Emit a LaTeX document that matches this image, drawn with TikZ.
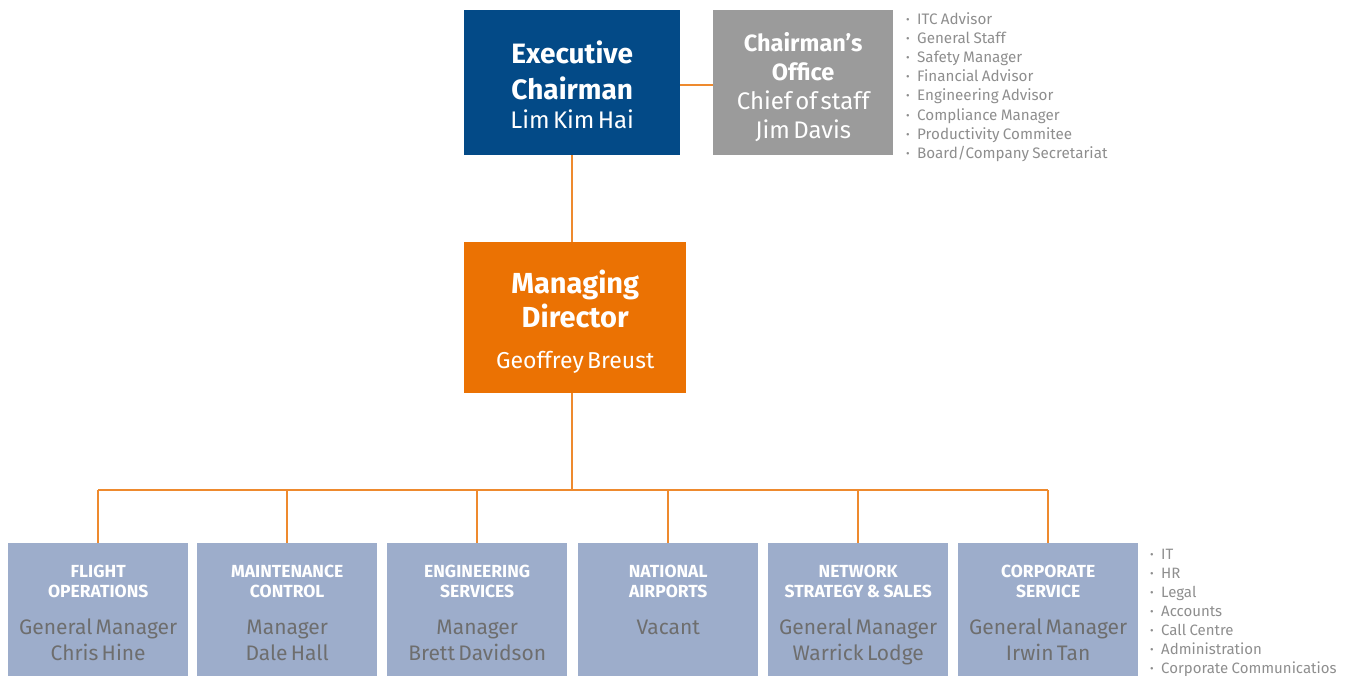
\documentclass[tikz,border=0pt]{standalone}
\usepackage{fontspec}
\setmainfont{Fira Sans}
\definecolor{execblue}{HTML}{034A87}
\definecolor{officegray}{HTML}{9B9B9B}
\definecolor{mdorange}{HTML}{EB7203}
\definecolor{deptblue}{HTML}{9DADCB}
\definecolor{nametext}{HTML}{6E6E6E}
\definecolor{listgray}{HTML}{8E8E8E}
\definecolor{linkorange}{HTML}{EE8A2E}
\newcommand{\fs}[2]{\fontsize{#1}{#2}\selectfont}
\newcommand{\itm}{\makebox[11pt][l]{\fs{11}{11}\raisebox{0.2ex}{•}}}
% text height 0pt: the first baseline sits (text depth)/2 above the box centre
\begin{document}
\begin{tikzpicture}[x=1pt,y=-1pt,
  box/.style={anchor=north west, inner sep=0pt, align=center, text=white, text height=0pt},
  dept/.style={box, fill=deptblue, minimum width=180pt, minimum height=133pt, text width=178pt, text depth=65pt},
  link/.style={draw=linkorange, line width=1.5pt},
  duties/.style={anchor=north west, inner sep=0pt, align=left, text=listgray, text height=10pt, text depth=0pt}]
\useasboundingbox (0,0) rectangle (1352,676);

% top level
\node[box, fill=execblue, minimum width=216pt, minimum height=145pt, text width=214pt, text depth=39pt] (exec) at (464,10)
  {\fs{28}{36}\bfseries Executive\par Chairman\par\fs{24}{29}\mdseries Lim Kim Hai\par};
\node[box, fill=officegray, minimum width=180pt, minimum height=145pt, text width=178pt, text depth=63pt] (office) at (713,10)
  {\fs{23.5}{29}\bfseries Chairman’s\par Office\par\fs{24}{29}\mdseries Chief of staff\par Jim Davis\par};
\node[duties, text width=240pt] (officelist) at (906,14)
  {\fs{15.2}{19.2}\itm ITC Advisor\par\itm General Staff\par\itm Safety Manager\par\itm Financial Advisor\par
   \itm Engineering Advisor\par\itm Compliance Manager\par\itm Productivity Commitee\par\itm Board/Company Secretariat\par};

% managing director
\node[box, fill=mdorange, minimum width=222pt, minimum height=151pt, text width=220pt, text depth=49pt] (md) at (464,242)
  {\fs{29}{34}\bfseries Managing\par Director\par\vskip12pt\fs{23}{29}\mdseries Geoffrey Breust\par};

% departments
\newcommand{\deptx}[3]{\fs{17.5}{20}\bfseries #1\par\vskip11pt\fs{21}{26}\mdseries\color{nametext}#2\par #3\par}
\node[dept] (flight) at (8,543)   {\deptx{FLIGHT\par OPERATIONS}{General Manager}{Chris Hine}};
\node[dept] (maint)  at (197,543) {\deptx{MAINTENANCE\par CONTROL}{Manager}{Dale Hall}};
\node[dept] (eng)    at (387,543) {\deptx{ENGINEERING\par SERVICES}{Manager}{Brett Davidson}};
\node[dept] (nat)    at (578,543) {\deptx{NATIONAL\par AIRPORTS}{Vacant}{\mbox{}}};
\node[dept] (net)    at (768,543) {\deptx{NETWORK\par STRATEGY \& SALES}{General Manager}{Warrick Lodge}};
\node[dept] (corp)   at (958,543) {\deptx{CORPORATE\par SERVICE}{General Manager}{Irwin Tan}};
\node[duties, text width=200pt] (corplist) at (1150,549)
  {\fs{15}{19}\itm IT\par\itm HR\par\itm Legal\par\itm Accounts\par\itm Call Centre\par
   \itm Administration\par\itm Corporate Communicatios\par};

% connectors
\coordinate (bus) at (572,490);
\draw[link] ([yshift=-2.5pt]exec.east) -- ([yshift=-2.5pt]office.west);
\draw[link] (exec.south -| bus) -- (md.north -| bus);
\draw[link] (md.south -| bus) -- (bus);
\draw[link] (flight.north |- bus) -- (corp.north |- bus);
\foreach \d in {flight,maint,eng,nat,net,corp}
  \draw[link] (\d.north |- bus) -- (\d.north);
\end{tikzpicture}
\end{document}
